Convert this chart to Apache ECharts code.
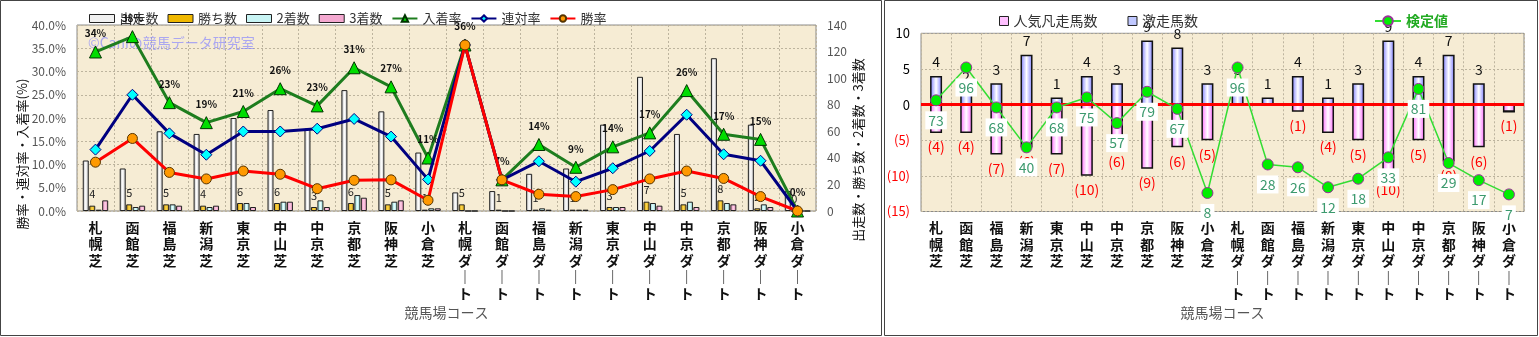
<!DOCTYPE html>
<html><head><meta charset="utf-8">
<script src="https://cdn.jsdelivr.net/npm/echarts@6/dist/echarts.min.js"></script>
<style>html,body{margin:0;padding:0;background:#fff}#c{width:1539px;height:337px}</style>
</head><body><div id="c"></div>
<script>
const categories = ['札幌芝','函館芝','福島芝','新潟芝','東京芝','中山芝','中京芝','京都芝','阪神芝','小倉芝','札幌ダート','函館ダート','福島ダート','新潟ダート','東京ダート','中山ダート','中京ダート','京都ダート','阪神ダート','小倉ダート'];
// left chart: counts
const runs    = [38,32,60,58,70,76,62,91,75,44,14,15,28,32,65,101,58,115,65,15];
const wins    = [4,5,5,4,6,6,3,6,5,1,5,1,1,1,3,7,5,8,2,0];
const seconds = [1,3,5,3,6,7,8,12,7,2,0,0,2,1,3,6,7,6,5,0];
const thirds  = [8,4,4,4,3,7,3,10,8,2,0,0,1,1,3,4,3,5,3,0];
// left chart: rates (%)
const placeRate   = [34.2,37.5,23.3,19.0,21.4,26.3,22.6,30.8,26.7,11.4,35.7,6.7,14.3,9.4,13.8,16.8,25.9,16.5,15.4,0];
const rentaiRate  = [13.2,25.0,16.7,12.1,17.1,17.1,17.7,19.8,16.0,6.8,35.7,6.7,10.7,6.3,9.2,12.9,20.7,12.2,10.8,0];
const winRate     = [10.5,15.6,8.3,6.9,8.6,7.9,4.8,6.6,6.7,2.3,35.7,6.7,3.6,3.1,4.6,6.9,8.6,7.0,3.1,0];
// right chart
const hotRuns  = [4,2,3,7,1,4,3,9,8,3,3,1,4,1,3,9,4,7,3,0];
const flopRuns = [-4,-4,-7,-6,-7,-10,-6,-9,-6,-5,0,0,-1,-4,-5,-10,-5,-8,-6,-1];
const testValues = [73,96,68,40,68,75,57,79,67,8,96,28,26,12,18,33,81,29,17,7];
// tick labels
const pctTicks = {min:0, max:40, interval:5};
const cntTicks = {min:0, max:140, interval:20};
const rTicks = {min:-15, max:10, interval:5};

const FONT = '"Noto Sans CJK JP","Noto Sans",sans-serif';
function hgrad(edge, mid){
  return new echarts.graphic.LinearGradient(0,0,1,0,[{offset:0,color:edge},{offset:0.5,color:mid||'#ffffff'},{offset:1,color:edge}]);
}
const catFmt = v => v.replace(/ー/g,'｜').split('').join('\n');
const gridLine = {show:true, lineStyle:{color:'#bdb49e', type:[2,2], width:1}};
function catLabel(){ return {interval:0, formatter:catFmt, fontSize:14, fontWeight:'bold', lineHeight:16.5, color:'#111', margin:8}; }

const chart = echarts.init(document.getElementById('c'));
const barBase = {barWidth:6, barGap:'8%', xAxisIndex:0, yAxisIndex:1};
const option = {
  animation:false,
  textStyle:{fontFamily:FONT},
  graphic:[
    {type:'rect', shape:{x:0.5,y:0.5,width:881,height:335}, style:{fill:'none',stroke:'#444',lineWidth:1}, z:0},
    {type:'rect', shape:{x:884.5,y:0.5,width:653,height:335}, style:{fill:'none',stroke:'#444',lineWidth:1}, z:0},
    {type:'text', x:22, y:154, rotation:Math.PI/2, style:{text:'勝率・連対率・入着率(%)', font:'13px '+FONT, fill:'#111', align:'center', verticalAlign:'middle'}, z:10},
    {type:'text', x:858, y:150, rotation:Math.PI/2, style:{text:'出走数・勝ち数・2着数・3着数', font:'13px '+FONT, fill:'#111', align:'center', verticalAlign:'middle'}, z:10},
    {type:'text', x:446.5, y:313, style:{text:'競馬場コース', font:'14px '+FONT, fill:'#555', align:'center', verticalAlign:'middle'}, z:10},
    {type:'text', x:1222.5, y:313, style:{text:'競馬場コース', font:'14px '+FONT, fill:'#555', align:'center', verticalAlign:'middle'}, z:10},
    {type:'text', x:88, y:43, style:{text:'©Caniの競馬データ研究室', font:'14px '+FONT, fill:'rgba(130,130,255,0.65)', align:'left', verticalAlign:'middle'}, z:1}
  ],
  legend:[
    {left:84, top:7, itemWidth:25, itemHeight:8, itemGap:9, textStyle:{fontSize:13, color:'#333'},
     data:[
      {name:'出走数', icon:'rect', itemStyle:{color:'#f0f0f0', borderColor:'#222', borderWidth:1}},
      {name:'勝ち数', icon:'rect', itemStyle:{color:'#f0b800', borderColor:'#222', borderWidth:1}},
      {name:'2着数', icon:'rect', itemStyle:{color:'#c8f4f4', borderColor:'#222', borderWidth:1}},
      {name:'3着数', icon:'rect', itemStyle:{color:'#f4a8d0', borderColor:'#222', borderWidth:1}},
      '入着率','連対率','勝率']},
    {left:994, top:9, itemWidth:9, itemHeight:9, itemGap:30, textStyle:{fontSize:14, color:'#333'},
     data:[
      {name:'人気凡走馬数', icon:'rect', itemStyle:{color:'#ffc0ff', borderColor:'#222', borderWidth:1}},
      {name:'激走馬数', icon:'rect', itemStyle:{color:'#c0c8ff', borderColor:'#222', borderWidth:1}}]},
    {left:1369, top:9, itemWidth:26, itemHeight:12, textStyle:{fontSize:14, color:'#22aa22', fontWeight:'bold'},
     data:['検定値']}
  ],
  grid:[
    {left:77, top:25, width:739, height:186, show:true, backgroundColor:'#f6ecd4', borderColor:'#8a8a8a', borderWidth:1},
    {left:921, top:33.3, width:603, height:178.2, show:true, backgroundColor:'#f6ecd4', borderColor:'#8a8a8a', borderWidth:1}
  ],
  xAxis:[
    {type:'category', gridIndex:0, data:categories, axisTick:{show:false}, axisLine:{show:false}, splitLine:gridLine, axisLabel:catLabel()},
    {type:'category', gridIndex:1, data:categories, axisTick:{show:false}, axisLine:{show:false}, splitLine:gridLine, axisLabel:catLabel()}
  ],
  yAxis:[
    {type:'value', gridIndex:0, position:'left', min:pctTicks.min, max:pctTicks.max, interval:pctTicks.interval,
     axisLine:{show:false}, axisTick:{show:false}, splitLine:gridLine,
     axisLabel:{formatter:v=>v.toFixed(1)+'%', fontSize:12, color:'#555', margin:11}},
    {type:'value', gridIndex:0, position:'right', min:cntTicks.min, max:cntTicks.max, interval:cntTicks.interval,
     axisLine:{show:false}, axisTick:{show:false}, splitLine:{show:false},
     axisLabel:{fontSize:12, color:'#555', margin:11}},
    {type:'value', gridIndex:1, position:'left', min:rTicks.min, max:rTicks.max, interval:rTicks.interval,
     axisLine:{show:false}, axisTick:{show:false}, splitLine:gridLine,
     axisLabel:{margin:11, formatter:v=> v<0 ? '{r|('+(-v)+')}' : '{b|'+v+'}',
       rich:{r:{color:'#ff0000', fontSize:13}, b:{color:'#000', fontSize:13}}}},
    {type:'value', gridIndex:1, position:'right', min:-5, max:120, show:false, splitLine:{show:false}}
  ],
  series:[
    Object.assign({type:'bar', name:'出走数', data:runs, z:2,
      itemStyle:{color:hgrad('#b8b8b8'), borderColor:'#222', borderWidth:1}}, barBase),
    Object.assign({type:'bar', name:'勝ち数', data:wins, z:2,
      itemStyle:{color:hgrad('#c89000','#ffd84a'), borderColor:'#222', borderWidth:1},
      label:{show:true, position:'top', distance:6, fontSize:11, color:'#222'}}, barBase),
    Object.assign({type:'bar', name:'2着数', data:seconds, z:2,
      itemStyle:{color:hgrad('#7fd0d0','#e8ffff'), borderColor:'#222', borderWidth:1}}, barBase),
    Object.assign({type:'bar', name:'3着数', data:thirds, z:2,
      itemStyle:{color:hgrad('#e080b0','#ffd0e8'), borderColor:'#222', borderWidth:1}}, barBase),
    {type:'line', name:'入着率', xAxisIndex:0, yAxisIndex:0, data:placeRate, z:5,
      lineStyle:{color:'#1e7d1e', width:3}, symbol:'triangle', symbolSize:12,
      itemStyle:{color:'#00dd00', borderColor:'#003300', borderWidth:1},
      label:{show:true, position:'top', distance:7, formatter:p=>Math.round(p.value)+'%', fontSize:10, fontWeight:'bold', color:'#111'}},
    {type:'line', name:'連対率', xAxisIndex:0, yAxisIndex:0, data:rentaiRate, z:6,
      lineStyle:{color:'#000080', width:3}, symbol:'diamond', symbolSize:11,
      itemStyle:{color:'#00ffff', borderColor:'#000080', borderWidth:1}},
    {type:'line', name:'勝率', xAxisIndex:0, yAxisIndex:0, data:winRate, z:7,
      lineStyle:{color:'#ff0000', width:3}, symbol:'circle', symbolSize:10,
      itemStyle:{color:'#ff9900', borderColor:'#553300', borderWidth:1}},

    {type:'bar', name:'人気凡走馬数', xAxisIndex:1, yAxisIndex:2, data:flopRuns, stack:'r', barWidth:12, z:2,
      itemStyle:{color:hgrad('#ff66ff'), borderColor:'#111', borderWidth:1.5},
      label:{show:true, position:'bottom', distance:7, fontSize:14, color:'#ff0000', formatter:p=>p.value? '('+Math.abs(p.value)+')' : ''}},
    {type:'bar', name:'激走馬数', xAxisIndex:1, yAxisIndex:2, data:hotRuns, stack:'r', barWidth:12, z:2,
      itemStyle:{color:hgrad('#7878ff'), borderColor:'#111', borderWidth:1.5},
      label:{show:true, position:'top', distance:7, fontSize:14, color:'#111', formatter:p=>p.value? String(p.value) : ''},
      markLine:{silent:true, symbol:'none', label:{show:false}, lineStyle:{color:'#ff0000', width:3, type:'solid'}, data:[{yAxis:0}]}},
    {type:'line', name:'検定値', xAxisIndex:1, yAxisIndex:3, data:testValues, z:6,
      lineStyle:{color:'#33dd33', width:1.5}, symbol:'circle', symbolSize:11,
      itemStyle:{color:'#00ee00', borderColor:'#993399', borderWidth:1},
      label:{show:true, position:'bottom', distance:5, fontSize:14, color:'#3c9a6e', backgroundColor:'#ffffff', padding:[2,3]}}
  ]
};
chart.setOption(option);
</script></body></html>
